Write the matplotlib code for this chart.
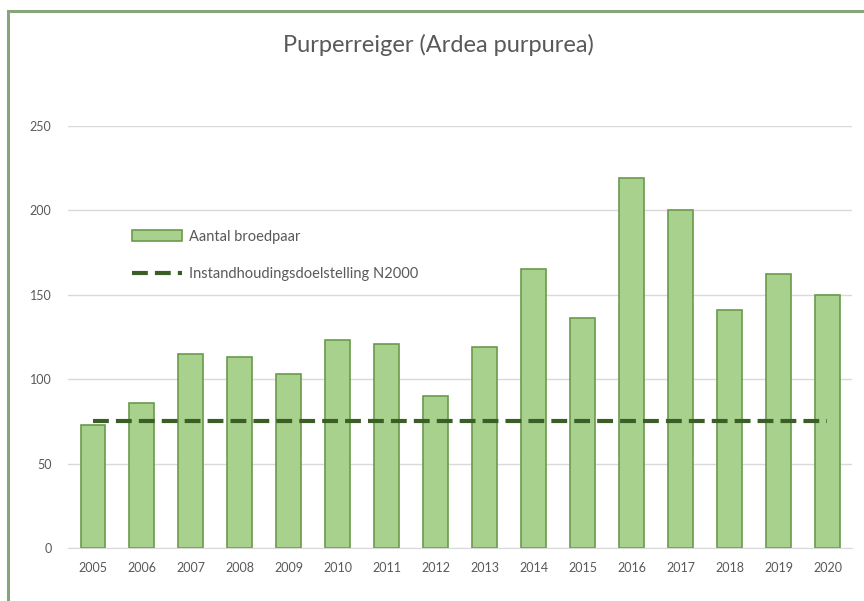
import matplotlib
matplotlib.use("Agg")
import matplotlib.pyplot as plt
from matplotlib.patches import Rectangle
import numpy as np

years = ["2005", "2006", "2007", "2008", "2009", "2010", "2011", "2012",
         "2013", "2014", "2015", "2016", "2017", "2018", "2019", "2020"]
pairs = [73, 86, 115, 113, 103, 123, 121, 90, 119, 165, 136, 219, 200, 141, 162, 150]
target = [75] * len(years)
yticks = [0, 50, 100, 150, 200, 250]

plt.rcParams['font.family'] = ['Lato', 'DejaVu Sans']

fig = plt.figure(figsize=(8.64, 6.01), dpi=100)
ax = fig.add_axes([0.079, 0.088, 0.907, 0.703])

x = np.arange(len(years))
bars = ax.bar(x, pairs, width=0.5, color='#a9d18e', edgecolor='#6a9a4a', linewidth=1.2,
              label='Aantal broedpaar', zorder=2)
line, = ax.plot(x, target, color='#3b5e26', linestyle=(0, (3.8, 1.7)), linewidth=3,
                label='Instandhoudingsdoelstelling N2000', zorder=3)

ax.set_xlim(-0.5, len(years) - 0.5)
ax.set_ylim(0, 250)
ax.set_xticks(x)
ax.set_xticklabels(years)
ax.set_yticks(yticks)
ax.tick_params(axis='both', length=0, labelsize=9, colors='#595959')
ax.tick_params(axis='y', pad=12)
ax.tick_params(axis='x', pad=10)
ax.grid(axis='y', color='#d9d9d9', linewidth=1, zorder=0)
ax.set_axisbelow(True)
for s in ['top', 'right', 'left']:
    ax.spines[s].set_visible(False)
ax.spines['bottom'].set_color('#d9d9d9')

fig.text(0.508, 0.925, 'Purperreiger (Ardea purpurea)', ha='center', va='center',
         fontsize=17, color='#595959')

leg = ax.legend([bars, line], ['Aantal broedpaar', 'Instandhoudingsdoelstelling N2000'],
                loc='upper left', bbox_to_anchor=(0.065, 0.785), frameon=False,
                fontsize=10.5, labelcolor='#595959', handlelength=3.4,
                labelspacing=1.6, handletextpad=0.5)

# green frame around the chart (only top and left visible in the crop)
fig.add_artist(Rectangle((8 / 864, -0.2), 1.2, 1.2 - 11 / 601,
                         transform=fig.transFigure, fill=False,
                         edgecolor='#86a679', linewidth=2.2))

fig.savefig('out.png', dpi=100)
